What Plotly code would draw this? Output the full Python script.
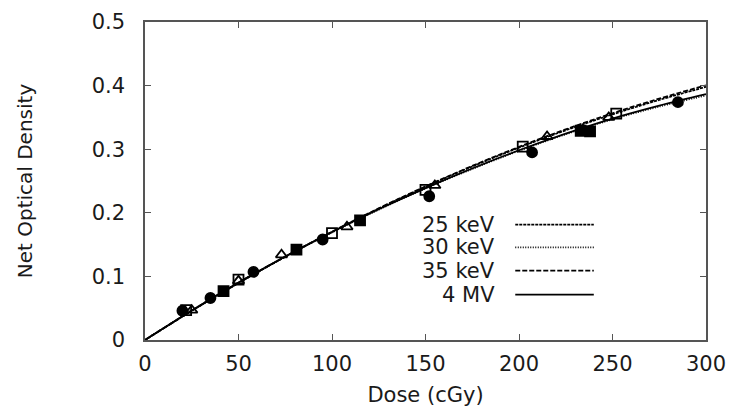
import plotly.graph_objects as go

# ---- data ----
fit_dose = [0, 25, 50, 75, 100, 125, 150, 175, 200, 225, 250, 275, 300]
fit_25kev = [0, 0.0459, 0.0895, 0.1308, 0.1698, 0.2065, 0.2408, 0.2728, 0.3025, 0.3298, 0.3548, 0.3775, 0.3980]
fit_30kev = [0, 0.0463, 0.0900, 0.1310, 0.1693, 0.2050, 0.2382, 0.2690, 0.2975, 0.3235, 0.3470, 0.3670, 0.3845]
fit_35kev = [0, 0.0460, 0.0897, 0.1311, 0.1702, 0.2070, 0.2415, 0.2737, 0.3036, 0.3312, 0.3565, 0.3795, 0.4005]
fit_4mv = [0, 0.0464, 0.0902, 0.1313, 0.1697, 0.2055, 0.2388, 0.2697, 0.2983, 0.3245, 0.3482, 0.3685, 0.3865]

dose_25kev = [22, 50, 100, 150, 202, 252]
od_25kev = [0.047, 0.095, 0.168, 0.236, 0.304, 0.356]
dose_30kev = [20, 35, 58, 95, 152, 207, 285]
od_30kev = [0.046, 0.066, 0.107, 0.158, 0.226, 0.295, 0.374]
dose_35kev = [25, 50, 73, 108, 155, 215, 248]
od_35kev = [0.047, 0.093, 0.134, 0.178, 0.243, 0.320, 0.350]
dose_4mv = [42, 81, 115, 233, 238]
od_4mv = [0.077, 0.142, 0.188, 0.329, 0.328]

labels = ["25 keV", "30 keV", "35 keV", "4 MV"]
dashes = ["3px,1px", "1px,1.5px", "5px,2px", "solid"]
fits = [fit_25kev, fit_30kev, fit_35kev, fit_4mv]
pts = [(dose_25kev, od_25kev, "square-open"),
       (dose_30kev, od_30kev, "circle"),
       (dose_35kev, od_35kev, "triangle-up-open"),
       (dose_4mv, od_4mv, "square")]

FONT = "DejaVu Sans, sans-serif"
TXT = "#1a1a1a"
fig = go.Figure()
for lab, dsh, f in zip(labels, dashes, fits):
    fig.add_trace(go.Scatter(x=fit_dose, y=f, mode="lines", name=lab,
                             line=dict(color="black", width=1.8, dash=dsh, shape="spline"),
                             showlegend=False, hoverinfo="skip"))
for (dx, dy, sym) in pts:
    fig.add_trace(go.Scatter(x=dx, y=dy, mode="markers", showlegend=False,
                             marker=dict(symbol=sym, size=10, color="black",
                                         line=dict(color="black", width=1.8))))

# custom legend: text on the left, line sample on the right
leg_y = [0.363, 0.291, 0.218, 0.143]
for lab, dsh, yy in zip(labels, dashes, leg_y):
    fig.add_annotation(x=0.628, y=yy, xref="paper", yref="paper", text=lab,
                       showarrow=False, xanchor="right", yanchor="middle",
                       font=dict(size=21, color=TXT, family=FONT))
    fig.add_shape(type="line", xref="paper", yref="paper", x0=0.66, x1=0.80, y0=yy, y1=yy,
                  line=dict(color="black", width=1.8, dash=dsh))

axis_common = dict(showgrid=False, zeroline=False, showline=True, linecolor="#555",
                   linewidth=1.5, mirror="ticks", ticks="inside", ticklen=6,
                   tickcolor="#555", tickwidth=1.2,
                   tickfont=dict(size=21, color=TXT, family=FONT))
fig.update_xaxes(range=[0, 300], tickvals=[0, 50, 100, 150, 200, 250, 300],
                 title=dict(text="Dose (cGy)", font=dict(size=21, color=TXT, family=FONT), standoff=12),
                 ticklabelstandoff=4, automargin=False, **axis_common)
fig.update_yaxes(range=[0, 0.5], tickvals=[0, 0.1, 0.2, 0.3, 0.4, 0.5],
                 ticktext=["0", "0.1", "0.2", "0.3", "0.4", "0.5"],
                 title=dict(text="Net Optical Density", font=dict(size=20, color=TXT, family=FONT), standoff=54),
                 ticklabelstandoff=14, automargin=False, **axis_common)
fig.update_layout(width=735, height=412, margin=dict(l=145, r=29, t=22, b=72),
                  plot_bgcolor="white", paper_bgcolor="white", showlegend=False)
fig.write_html("out.html")
